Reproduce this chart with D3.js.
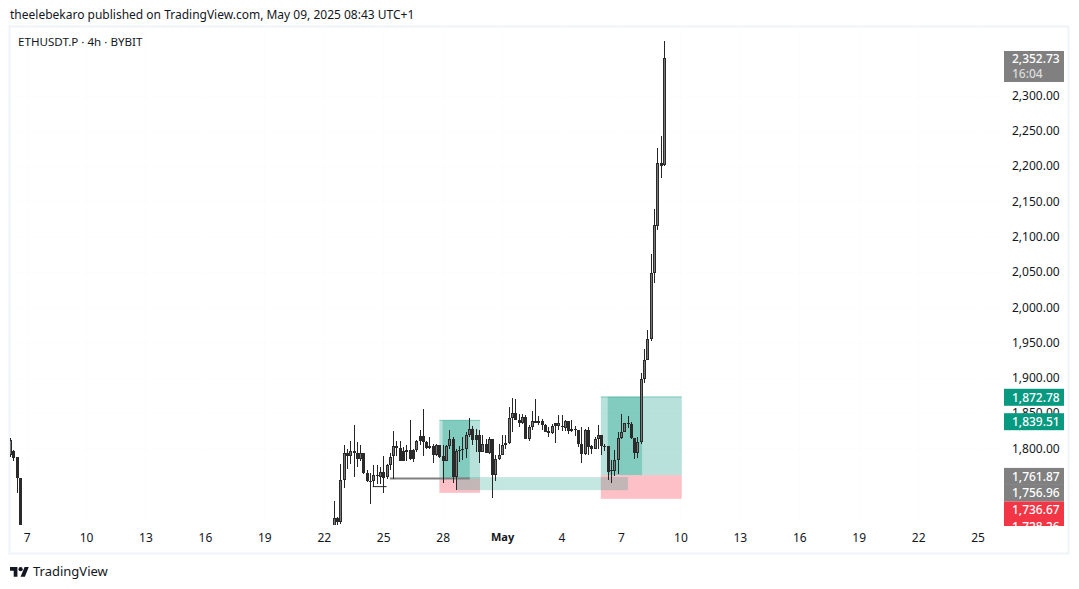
<!DOCTYPE html>
<html>
<head>
<meta charset="utf-8">
<script src="https://cdn.jsdelivr.net/npm/d3@7/dist/d3.min.js"></script>
<style>
  html, body { margin: 0; padding: 0; background: #fff; }
  svg { display: block; }
  text { font-family: "Noto Sans", sans-serif; font-size: 12px; }
</style>
</head>
<body>
<svg id="chart" width="1079" height="589"></svg>
<script>
// 4h ETHUSDT.P candles; a bar number counts 4h steps from 7 April 2025 00:00
const farLeftBars = [-5, -4, -3, -2, 44];
const farLeftOpen  = [1790, 1796, 1787, 1757.5, 1680];
const farLeftHigh  = [1815, 1797, 1787, 1758, 1691];
const farLeftLow   = [1788, 1782, 1736, 1670, 1665];
const farLeftClose = [1811, 1786.8, 1757.5, 1680, 1670];

const firstMainBar = 93;
const opens = [1690,1700.4,1695.7,1754.7,1792.5,1789.2,1795.8,1792.5,1784,1792.5,
  1765.1,1754,1752.8,1761.8,1759.4,1766.5,1758.5,1775.5,1788.7,1803.8,
  1800.5,1795.8,1795.3,1798.1,1798,1798.1,1818,1818,1808.5,1803.8,
  1803.8,1791,1805.2,1788.7,1782.5,1802.8,1813.7,1759.4,1795.8,1799.5,
  1799.5,1819.4,1827.9,1819.4,1819.4,1794.8,1806.6,1792.5,1813.7,1762.2,
  1784,1791,1805.2,1808,1843.4,1850.5,1840.6,1835.9,1844.4,1813.2,
  1830.2,1838.7,1835.9,1838.7,1832.6,1824,1822.2,1836.4,1831.6,1831.2,
  1829.3,1839.2,1824.6,1827,1826.4,1806.6,1792,1825.5,1802.8,1799,
  1813.7,1818.4,1803.8,1803.8,1768.4,1768,1783,1815.1,1823.6,1836.4,
  1834,1815.1,1793.4,1809.5,1898.7,1925.6,1955.4,2048.9,2115,2204.7,2201];
const highs = [1725,1702,1778.3,1805.2,1799.5,1810.9,1833.5,1809,1805.2,1792.5,
  1768.9,1765,1776,1776,1773.6,1788.7,1778.3,1792.5,1825,1810,
  1810,1801,1805.2,1839.7,1799.5,1812.3,1825.5,1856.2,1810,1816.1,
  1806.6,1806.6,1805.2,1805.2,1804.3,1825.5,1816.1,1799.5,1803.8,1816.1,
  1823.1,1843,1831.2,1827.9,1825.5,1819.4,1813.7,1816.1,1813.7,1790,
  1806.6,1818.4,1818.4,1858.5,1871.8,1869.4,1849.1,1849.1,1847.7,1832.6,
  1852.4,1869.4,1845.3,1842,1835,1830.2,1835,1836.4,1846.7,1847.7,
  1840.6,1839.2,1840.6,1831.2,1826.4,1830.2,1827.9,1830.2,1804.3,1816.1,
  1832.6,1818.4,1806.6,1803.8,1783,1797.2,1823.1,1849,1836.4,1845.3,
  1837.3,1815.1,1816,1906,1941,1967,2074.8,2138.5,2225.4,2243.3,2377.9];
const lows = [1684,1686,1692,1743.9,1771.2,1778.3,1759.4,1773.6,1782,1764.1,
  1752,1720.7,1745.3,1749,1749,1736.8,1757,1768.9,1757,1788.7,
  1782,1782,1781.6,1783,1780.7,1794.8,1805.2,1789.6,1799.5,1799.5,
  1779.2,1789.6,1785.4,1750.9,1782.5,1799.5,1750.9,1740.5,1780.7,1783,
  1786.8,1816.1,1805.2,1794.8,1779.2,1794.8,1792.5,1791.5,1729.7,1753.3,
  1783,1790,1799.5,1806.6,1823.1,1839.7,1830.2,1835,1813.2,1810,
  1826.4,1835.9,1832.6,1825.5,1823.1,1816.1,1820.8,1807.6,1826.4,1824.6,
  1824.6,1820.8,1823.1,1818,1801.9,1779.2,1790,1790,1791.5,1799,
  1799,1790,1795.8,1754.7,1750.9,1760.4,1763,1813.7,1823.1,1828.8,
  1813.2,1785,1786.8,1806,1892,1925.6,1952,2034,2108.8,2182.9,2199.9];
const closes = [1700.4,1695.7,1754.7,1792.5,1789.2,1795.8,1792.5,1784,1792.5,1765.1,
  1753.8,1753.5,1762.7,1762.7,1766.5,1758,1775.5,1787.7,1803.8,1800.5,
  1782.5,1782.5,1798.1,1784,1784,1810.9,1810.9,1808.5,1800.5,1800.5,
  1791,1804.3,1787.3,1782.5,1802.8,1813.7,1759.4,1795.8,1798.1,1798,
  1819.4,1827.9,1812.3,1812.3,1794.8,1806.6,1793.4,1813.7,1762.2,1784,
  1791,1805.2,1808,1843.4,1850.5,1840.6,1835.9,1844.4,1813.2,1830.2,
  1838.7,1835.9,1838.7,1832.6,1823.1,1822.2,1831.6,1831.6,1836.4,1831,
  1839.2,1824.6,1827.9,1826.6,1805.7,1792,1825.5,1801.9,1799,1813.7,
  1818.4,1803.3,1803.4,1766.5,1768.2,1783,1815.1,1823.6,1836.4,1834,
  1814.2,1793.4,1809.5,1898.7,1925.6,1955.4,2048.9,2115.9,2204.7,2200.8,2352.73];

// Position tool levels (prices) and the bar numbers they span
const firstPosition = { start: 125, inner: 126, innerEnd: 134.2, end: 137.3, target: 1839.51, entry: 1756.96, stop: 1736.67 };
const secondPosition = { start: 173.9, inner: 176, innerEnd: 186.4, end: 198.4, target: 1872.78, entry: 1761.87, stop: 1728.26 };
const gapZone = { start: 130.3, end: 182.1, top: 1759, bottom: 1740.5 };
const entryLine = { start: 110, end: 134.2, price: 1756.96 };
const lowLine = { start: 104.8, end: 109, price: 1745.5 };

// Axis content
const priceTicks = [1800, 1850, 1900, 1950, 2000, 2050, 2100, 2150, 2200, 2250, 2300];
const dayTicks = ["2025-04-07","2025-04-10","2025-04-13","2025-04-16","2025-04-19","2025-04-22","2025-04-25","2025-04-28","2025-05-01","2025-05-04","2025-05-07","2025-05-10","2025-05-13","2025-05-16","2025-05-19","2025-05-22","2025-05-25"];
const dayTickLabels = ["7","10","13","16","19","22","25","28","May","4","7","10","13","16","19","22","25"];

// Price-scale badges: value shown, vertical slot after the badges are stacked, fill
const badgeValues = [1872.78, 1839.51, 1761.87, 1756.96, 1736.67, 1728.26];
const badgeCentres = [397.3, 421.7, 476.4, 493, 510, 526.5];
const badgeColours = ["#089981", "#089981", "#808080", "#808080", "#f23645", "#f23645"];

const svg = d3.select("#chart");
const fmt = d3.format(",.2f");

const pane = { left: 10, right: 1003, top: 27, bottom: 525 };

const xTime = d3.scaleUtc()
  .domain([new Date("2025-04-07T00:00Z"), new Date("2025-05-25T00:00Z")])
  .range([26.6, 977.6]);
const barDate = n => new Date(Date.UTC(2025, 3, 7) + n * 4 * 3600e3);
const x = n => xTime(barDate(n));
const y = d3.scaleLinear().domain([1800, 2300]).range([448.2, 95.6]);

// Outer frame
svg.append("rect").attr("x", 9.5).attr("y", 26.5).attr("width", 1059).attr("height", 527)
  .attr("fill", "#fff").attr("stroke", "#f0f3fa").attr("stroke-width", 2);

// Very faint grid
const tickDates = dayTicks.map(d => new Date(d + "T00:00Z"));
const grid = svg.append("g").attr("shape-rendering", "crispEdges").attr("stroke", "#fcfdfd");
grid.selectAll(".gx").data(tickDates).join("line")
  .attr("x1", d => Math.round(xTime(d)) + .5).attr("x2", d => Math.round(xTime(d)) + .5)
  .attr("y1", pane.top).attr("y2", pane.bottom);
grid.selectAll(".gy").data(priceTicks).join("line")
  .attr("x1", pane.left).attr("x2", pane.right)
  .attr("y1", d => Math.round(y(d)) + .5).attr("y2", d => Math.round(y(d)) + .5);

svg.append("defs").append("clipPath").attr("id", "paneClip").append("rect")
  .attr("x", pane.left).attr("y", pane.top)
  .attr("width", pane.right - pane.left).attr("height", pane.bottom - pane.top);

const plot = svg.append("g").attr("clip-path", "url(#paneClip)");

// Position tools and the gap zone
function band(x0, x1, p0, p1, fill, opacity) {
  plot.append("rect")
    .attr("x", x(x0)).attr("width", x(x1) - x(x0))
    .attr("y", y(p0)).attr("height", y(p1) - y(p0))
    .attr("fill", fill).attr("fill-opacity", opacity);
}
function position(p) {
  band(p.start, p.end, p.target, p.entry, "#089981", 0.29);
  band(p.start, p.end, p.entry, p.stop, "#fa3c50", 0.32);
  band(p.inner, p.innerEnd, p.target, p.entry, "#089981", 0.3);
  plot.append("line").attr("x1", x(p.start)).attr("x2", x(p.end))
    .attr("y1", y(p.target)).attr("y2", y(p.target))
    .attr("stroke", "#089981").attr("stroke-opacity", 0.45);
}
position(firstPosition);
position(secondPosition);
band(gapZone.start, gapZone.end, gapZone.top, gapZone.bottom, "#089981", 0.24);

plot.append("line").attr("x1", x(entryLine.start)).attr("x2", x(entryLine.end))
  .attr("y1", y(entryLine.price)).attr("y2", y(entryLine.price))
  .attr("stroke", "#808080").attr("stroke-width", 2);
plot.append("line").attr("x1", x(lowLine.start)).attr("x2", x(lowLine.end))
  .attr("y1", y(lowLine.price)).attr("y2", y(lowLine.price))
  .attr("stroke", "#222").attr("stroke-width", 1);

// Candles
const bars = farLeftBars.map((n, i) => ({ n, o: farLeftOpen[i], h: farLeftHigh[i], l: farLeftLow[i], c: farLeftClose[i] }))
  .concat(opens.map((o, i) => ({ n: firstMainBar + i, o, h: highs[i], l: lows[i], c: closes[i] })));

const candles = plot.append("g").attr("shape-rendering", "crispEdges")
  .selectAll("g").data(bars).join("g");
candles.append("line")
  .attr("x1", d => Math.round(x(d.n)) + .5).attr("x2", d => Math.round(x(d.n)) + .5)
  .attr("y1", d => y(d.h)).attr("y2", d => y(d.l))
  .attr("stroke", "#262626");
candles.append("rect")
  .attr("x", d => Math.round(x(d.n)) - 1)
  .attr("width", 3)
  .attr("y", d => Math.round(y(Math.max(d.o, d.c))))
  .attr("height", d => Math.max(1, Math.round(y(Math.min(d.o, d.c))) - Math.round(y(Math.max(d.o, d.c)))))
  .attr("fill", "#2a2a2a");
candles.filter(d => d.c > d.o).append("rect")
  .attr("x", d => Math.round(x(d.n)))
  .attr("width", 1)
  .attr("y", d => Math.round(y(d.c)) + 1)
  .attr("height", d => Math.max(0, Math.round(y(d.o)) - Math.round(y(d.c)) - 2))
  .attr("fill", "#787878");

// Time axis
const xAxis = d3.axisBottom(xTime).tickValues(tickDates).tickSize(0).tickPadding(0)
  .tickFormat((d, i) => dayTickLabels[i]);
const xg = svg.append("g").attr("transform", "translate(0,533)").call(xAxis);
xg.select(".domain").remove();
xg.selectAll("text").attr("fill", "#131722")
  .style("font-size", (d, i) => dayTickLabels[i] === "May" ? "11px" : "12px")
  .attr("font-weight", (d, i) => dayTickLabels[i] === "May" ? 700 : 400);

// Price axis
const yAxis = d3.axisRight(y).tickValues(priceTicks).tickSize(0).tickPadding(0).tickFormat(fmt);
const yg = svg.append("g").attr("transform", "translate(1012,0)").call(yAxis);
yg.select(".domain").remove();
yg.selectAll("text").attr("fill", "#131722").style("font-size", "12px");

// Price badges, cut off where the pane ends
svg.append("defs").append("clipPath").attr("id", "badgeClip").append("rect")
  .attr("x", 1000).attr("y", pane.top).attr("width", 70).attr("height", pane.bottom + 1 - pane.top);
const badges = svg.append("g").attr("clip-path", "url(#badgeClip)");
badges.selectAll("rect").data(badgeValues).join("rect")
  .attr("x", 1004).attr("width", 60).attr("height", 17)
  .attr("y", (d, i) => badgeCentres[i] - 8.5)
  .attr("fill", (d, i) => badgeColours[i]);
badges.selectAll("text").data(badgeValues).join("text")
  .attr("x", 1012).attr("y", (d, i) => badgeCentres[i]).attr("dy", "0.36em")
  .attr("fill", "#fff").attr("font-weight", 500).text(d => fmt(d));

// Last price badge with the countdown
const lastPrice = closes[closes.length - 1];
svg.append("rect").attr("x", 1004).attr("y", 51).attr("width", 60).attr("height", 31).attr("fill", "#808080");
svg.append("text").attr("x", 1012).attr("y", y(lastPrice) + 0.5).attr("dy", "0.36em").attr("fill", "#fff").attr("font-weight", 500).text(fmt(lastPrice));
svg.append("text").attr("x", 1012).attr("y", 73.5).attr("dy", "0.36em").attr("fill", "#dcdcdc").attr("font-weight", 500).text("16:04");

// Header and footer
svg.append("text").attr("x", 10).attr("y", 14.5).attr("dy", "0.36em").attr("fill", "#131722")
  .text("theelebekaro published on TradingView.com, May 09, 2025 08:43 UTC+1");
svg.append("text").attr("x", 18).attr("y", 42.3).attr("dy", "0.36em").attr("fill", "#131722")
  .style("font-size", "11.6px").text("ETHUSDT.P · 4h · BYBIT");

const logo = svg.append("g").attr("transform", "translate(10,565) scale(0.53)").attr("fill", "#131722");
logo.append("path").attr("d", "M14 22H7V11H0V4h14v18zM28 22h-8l7.5-18h8L28 22z");
logo.append("circle").attr("cx", 20).attr("cy", 8).attr("r", 4);
svg.append("text").attr("x", 33).attr("y", 571.5).attr("dy", "0.36em").attr("fill", "#131722")
  .style("font-size", "13px").text("TradingView");
</script>
</body>
</html>
